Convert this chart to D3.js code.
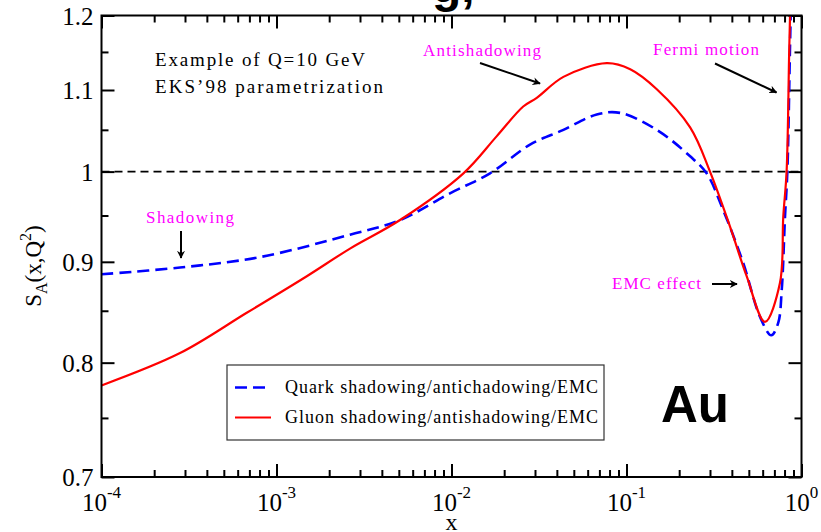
<!DOCTYPE html>
<html>
<head>
<meta charset="utf-8">
<script src="https://cdn.jsdelivr.net/npm/d3@7"></script>
<style>
  body { margin: 0; background: #fff; }
  svg { display: block; }
</style>
</head>
<body>
<script>
// values (Au, Q = 10 GeV)
const quarkX = [1e-4, 2.81e-4, 8.05e-4, 2.63e-3, 5.08e-3, 9.8e-3, 0.0166, 0.0281, 0.0436, 0.0676, 0.0918, 0.149, 0.231, 0.287, 0.357, 0.464, 0.579, 0.672, 0.736, 0.771, 0.805, 0.830, 0.859, 0.875];
const quarkS = [0.887, 0.894, 0.905, 0.929, 0.945, 0.975, 0.998, 1.032, 1.050, 1.069, 1.071, 1.050, 1.018, 0.998, 0.956, 0.899, 0.844, 0.826, 0.838, 0.871, 0.949, 1.0, 1.153, 1.25];

const gluonX = [1e-4, 2.81e-4, 6.76e-4, 1.49e-3, 2.63e-3, 5.08e-3, 0.0117, 0.0181, 0.0257, 0.0307, 0.0436, 0.0771, 0.105, 0.149, 0.231, 0.300, 0.390, 0.486, 0.618, 0.753, 0.787, 0.822, 0.851, 0.87];
const gluonS = [0.779, 0.809, 0.848, 0.885, 0.914, 0.945, 0.998, 1.042, 1.079, 1.090, 1.117, 1.135, 1.127, 1.101, 1.053, 1.000, 0.938, 0.885, 0.839, 0.878, 0.949, 1.000, 1.153, 1.25];

const xMajor = [1e-4, 1e-3, 1e-2, 1e-1, 1];
const xMajorExp = ["-4", "-3", "-2", "-1", "0"];
const yMajor = [0.7, 0.8, 0.9, 1, 1.1, 1.2];
const yMajorLabels = ["0.7", "0.8", "0.9", "1", "1.1", "1.2"];
const yMinor = [0.75, 0.85, 0.95, 1.05, 1.15];

const legendLabels = ["Quark shadowing/antichadowing/EMC", "Gluon shadowing/antishadowing/EMC"];

const width = 821;
const height = 532;
const plotLeft = 101.5, plotRight = 801.5, plotTop = 15.5, plotBottom = 477;

const serif = "'Liberation Serif', 'DejaVu Serif', serif";
const magenta = "#f0f";

const x = d3.scaleLog().domain([1e-4, 1]).range([plotLeft, plotRight]);
const y = d3.scaleLog().domain([0.7, 1.2]).range([plotBottom, plotTop]);

const xMinor = x.ticks().filter((t) => !xMajor.some((m) => Math.abs(m - t) / m < 1e-6));

const svg = d3
  .select("body")
  .append("svg")
  .attr("width", width)
  .attr("height", height)
  .attr("viewBox", [0, 0, width, height]);

const defs = svg.append("defs");
defs.append("clipPath")
  .attr("id", "plot")
  .append("rect")
  .attr("x", plotLeft)
  .attr("y", plotTop)
  .attr("width", plotRight - plotLeft)
  .attr("height", plotBottom - plotTop);

defs.append("marker")
  .attr("id", "arrow")
  .attr("viewBox", "0 0 10 10")
  .attr("refX", 9)
  .attr("refY", 5)
  .attr("markerWidth", 8)
  .attr("markerHeight", 8)
  .attr("markerUnits", "userSpaceOnUse")
  .attr("orient", "auto")
  .append("path")
  .attr("d", "M0,0L10,5L0,10L3,5Z")
  .attr("fill", "#000");

// ticks, pointing inward on all four sides
function styleAxis(g) {
  g.select(".domain").remove();
  g.selectAll(".tick line").attr("stroke", "#000").attr("stroke-width", 2);
}

svg.append("g").attr("transform", `translate(0,${plotBottom})`)
  .call(d3.axisBottom(x).tickValues(xMajor).tickSize(-13).tickFormat(() => "")).call(styleAxis);
svg.append("g").attr("transform", `translate(0,${plotBottom})`)
  .call(d3.axisBottom(x).tickValues(xMinor).tickSize(-7).tickFormat(() => "")).call(styleAxis);
svg.append("g").attr("transform", `translate(0,${plotTop})`)
  .call(d3.axisTop(x).tickValues(xMajor).tickSize(-13).tickFormat(() => "")).call(styleAxis);
svg.append("g").attr("transform", `translate(0,${plotTop})`)
  .call(d3.axisTop(x).tickValues(xMinor).tickSize(-7).tickFormat(() => "")).call(styleAxis);
svg.append("g").attr("transform", `translate(${plotLeft},0)`)
  .call(d3.axisLeft(y).tickValues(yMajor).tickSize(-13).tickFormat(() => "")).call(styleAxis);
svg.append("g").attr("transform", `translate(${plotLeft},0)`)
  .call(d3.axisLeft(y).tickValues(yMinor).tickSize(-7).tickFormat(() => "")).call(styleAxis);
svg.append("g").attr("transform", `translate(${plotRight},0)`)
  .call(d3.axisRight(y).tickValues(yMajor).tickSize(-13).tickFormat(() => "")).call(styleAxis);
svg.append("g").attr("transform", `translate(${plotRight},0)`)
  .call(d3.axisRight(y).tickValues(yMinor).tickSize(-7).tickFormat(() => "")).call(styleAxis);

// y tick labels
svg.append("g")
  .selectAll("text")
  .data(yMajor)
  .join("text")
  .attr("x", plotLeft - 8)
  .attr("y", (d) => y(d))
  .attr("dy", "0.36em")
  .attr("text-anchor", "end")
  .style("font-family", serif)
  .style("font-size", "25px")
  .text((d, i) => yMajorLabels[i]);

// x tick labels 10^n
const xl = svg.append("g")
  .selectAll("text")
  .data(xMajor)
  .join("text")
  .attr("x", (d) => x(d))
  .attr("y", 511)
  .attr("text-anchor", "middle")
  .style("font-family", serif)
  .style("font-size", "25px");
xl.append("tspan").text("10");
xl.append("tspan").attr("dy", -13).style("font-size", "17px").text((d, i) => xMajorExp[i]);

svg.append("text")
  .attr("x", (plotLeft + plotRight) / 2)
  .attr("y", 530)
  .attr("text-anchor", "middle")
  .style("font-family", serif)
  .style("font-size", "24px")
  .text("x");

const yl = svg.append("text")
  .attr("transform", "translate(41,266) rotate(-90)")
  .attr("text-anchor", "middle")
  .style("font-family", serif)
  .style("font-size", "23px");
yl.append("tspan").text("S");
yl.append("tspan").attr("dy", 6).style("font-size", "16px").text("A");
yl.append("tspan").attr("dy", -6).text("(x,Q");
yl.append("tspan").attr("dy", -10).style("font-size", "16px").text("2");
yl.append("tspan").attr("dy", 10).text(")");

// reference line at 1
svg.append("line")
  .attr("x1", plotLeft)
  .attr("x2", plotRight)
  .attr("y1", y(1))
  .attr("y2", y(1))
  .attr("stroke", "#000")
  .attr("stroke-width", 1.6)
  .attr("stroke-dasharray", "8,5");

const line = d3.line()
  .x((d) => x(d[0]))
  .y((d) => y(d[1]))
  .curve(d3.curveCatmullRom.alpha(0.5));

const curves = svg.append("g").attr("clip-path", "url(#plot)");

curves.append("path")
  .datum(d3.zip(quarkX, quarkS))
  .attr("fill", "none")
  .attr("stroke", "#00f")
  .attr("stroke-width", 2.6)
  .attr("stroke-dasharray", "12,6")
  .attr("d", line);

curves.append("path")
  .datum(d3.zip(gluonX, gluonS))
  .attr("fill", "none")
  .attr("stroke", "#f00")
  .attr("stroke-width", 2.2)
  .attr("d", line);

// frame
svg.append("rect")
  .attr("x", plotLeft)
  .attr("y", plotTop)
  .attr("width", plotRight - plotLeft)
  .attr("height", plotBottom - plotTop)
  .attr("fill", "none")
  .attr("stroke", "#000")
  .attr("stroke-width", 2);

// annotations
svg.append("text").attr("x", 155).attr("y", 66)
  .attr("textLength", 210).attr("lengthAdjust", "spacing")
  .style("font-family", serif).style("font-size", "19px").text("Example of Q=10 GeV");
svg.append("text").attr("x", 155).attr("y", 92.5)
  .attr("textLength", 228).attr("lengthAdjust", "spacing")
  .style("font-family", serif).style("font-size", "19px").text("EKS\u201998 parametrization");

const notes = [
  { text: "Antishadowing", x: 423, y: 56, w: 118, a: [480, 63, 540, 83.5] },
  { text: "Fermi motion", x: 653, y: 55, w: 106, a: [715, 63.5, 776.5, 92.5] },
  { text: "Shadowing", x: 146, y: 223, w: 88, a: [181, 231, 181, 258] },
  { text: "EMC effect", x: 612, y: 288.5, w: 89, a: [712, 284, 737, 284] },
];

svg.append("g")
  .selectAll("text")
  .data(notes)
  .join("text")
  .attr("x", (d) => d.x)
  .attr("y", (d) => d.y)
  .attr("textLength", (d) => d.w)
  .attr("lengthAdjust", "spacing")
  .attr("fill", magenta)
  .style("font-family", serif)
  .style("font-size", "17px")
  .text((d) => d.text);

svg.append("g")
  .selectAll("line")
  .data(notes)
  .join("line")
  .attr("x1", (d) => d.a[0])
  .attr("y1", (d) => d.a[1])
  .attr("x2", (d) => d.a[2])
  .attr("y2", (d) => d.a[3])
  .attr("stroke", "#000")
  .attr("stroke-width", 2)
  .attr("marker-end", "url(#arrow)");

// legend
const legend = svg.append("g");
legend.append("rect")
  .attr("x", 227)
  .attr("y", 365)
  .attr("width", 377)
  .attr("height", 75)
  .attr("fill", "#fff")
  .attr("stroke", "#333")
  .attr("stroke-width", 1.2);

const legendStyles = [
  { stroke: "#00f", dash: "12,6", width: 2.6, y: 387.5 },
  { stroke: "#f00", dash: null, width: 2.2, y: 417.5 },
];
legend.selectAll("line")
  .data(legendStyles)
  .join("line")
  .attr("x1", 235)
  .attr("x2", 271)
  .attr("y1", (d) => d.y)
  .attr("y2", (d) => d.y)
  .attr("stroke", (d) => d.stroke)
  .attr("stroke-width", (d) => d.width)
  .attr("stroke-dasharray", (d) => d.dash);
legend.selectAll("text")
  .data(legendLabels)
  .join("text")
  .attr("x", 285)
  .attr("y", (d, i) => legendStyles[i].y + 5)
  .attr("textLength", 313)
  .attr("lengthAdjust", "spacing")
  .style("font-family", serif)
  .style("font-size", "18px")
  .text((d) => d);

svg.append("text")
  .attr("x", 661)
  .attr("y", 421.5)
  .style("font-family", "'Liberation Sans', Arial, sans-serif")
  .style("font-weight", "bold")
  .style("font-size", "51px")
  .text("Au");

// bit of the title cut off at the top edge
svg.append("text")
  .attr("x", 432)
  .attr("y", 2)
  .style("font-family", "'Liberation Sans', Arial, sans-serif")
  .style("font-weight", "bold")
  .style("font-size", "48px")
  .text("g,");
</script>
</body>
</html>
